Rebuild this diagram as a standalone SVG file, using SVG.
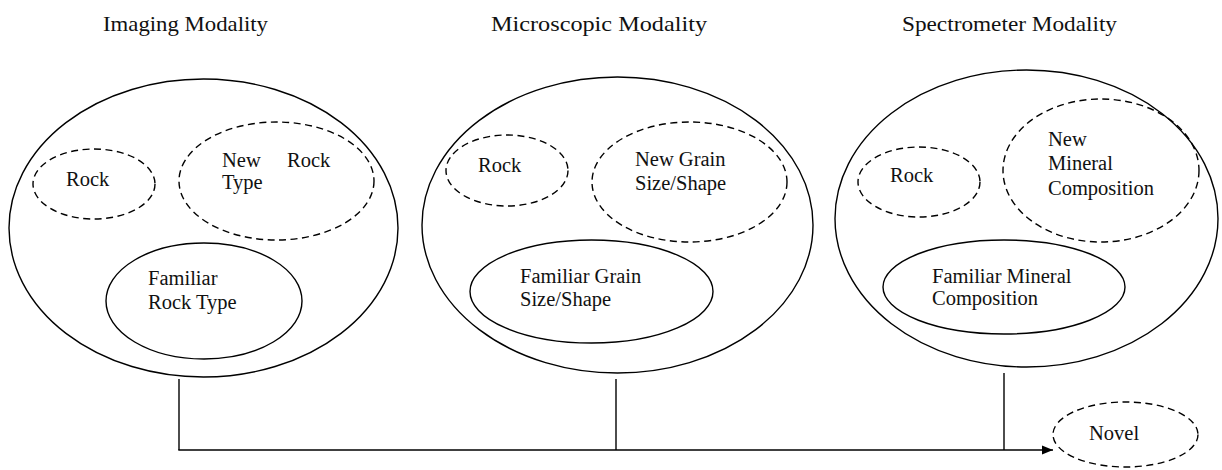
<svg xmlns="http://www.w3.org/2000/svg" width="1222" height="470" viewBox="0 0 1222 470">
  <style>
    .solid { fill: none; stroke: #000; stroke-width: 1.4; }
    .dash { fill: none; stroke: #000; stroke-width: 1.4; stroke-dasharray: 7 4.5; }
    .lbl { font-family: "Liberation Serif", "Times New Roman", serif; font-size: 20.5px; fill: #111; }
    .ttl { font-family: "Liberation Serif", "Times New Roman", serif; font-size: 21px; fill: #111; }
    .wire { fill: none; stroke: #000; stroke-width: 1.4; }
  </style>
  <defs>
    <marker id="arrow" viewBox="0 0 11 10" refX="11" refY="5" markerWidth="11" markerHeight="10" markerUnits="userSpaceOnUse" orient="auto">
      <path d="M0,0.5 L11,5 L0,9.5 Z" fill="#000"/>
    </marker>
  </defs>
  <rect width="1222" height="470" fill="#fff"/>

  <!-- Modality titles -->
  <g id="titles">
    <text class="ttl" x="103" y="31" textLength="165" lengthAdjust="spacingAndGlyphs">Imaging Modality</text>
    <text class="ttl" x="491" y="31" textLength="216" lengthAdjust="spacingAndGlyphs">Microscopic Modality</text>
    <text class="ttl" x="902" y="31" textLength="215" lengthAdjust="spacingAndGlyphs">Spectrometer Modality</text>
  </g>

  <!-- Imaging modality -->
  <g id="imaging">
    <ellipse class="solid" cx="203.5" cy="228" rx="194.5" ry="149"/>
    <g id="imaging-rock">
      <ellipse class="dash" cx="94" cy="184" rx="61" ry="35"/>
      <text class="lbl" x="66" y="186">Rock</text>
    </g>
    <g id="imaging-new">
      <ellipse class="dash" cx="276.5" cy="181" rx="97.5" ry="59"/>
      <text class="lbl" x="222" y="167">New</text>
      <text class="lbl" x="287" y="167">Rock</text>
      <text class="lbl" x="222" y="189">Type</text>
    </g>
    <g id="imaging-familiar">
      <ellipse class="solid" cx="204" cy="301" rx="98" ry="58"/>
      <text class="lbl" x="148" y="285">Familiar</text>
      <text class="lbl" x="148" y="309">Rock Type</text>
    </g>
  </g>

  <!-- Microscopic modality -->
  <g id="microscopic">
    <ellipse class="solid" cx="617.5" cy="225" rx="195.5" ry="148"/>
    <g id="micro-rock">
      <ellipse class="dash" cx="507" cy="170.5" rx="61" ry="35.5"/>
      <text class="lbl" x="478" y="172">Rock</text>
    </g>
    <g id="micro-new">
      <ellipse class="dash" cx="689.5" cy="182" rx="97.5" ry="60"/>
      <text class="lbl" x="635" y="166">New Grain</text>
      <text class="lbl" x="635" y="190">Size/Shape</text>
    </g>
    <g id="micro-familiar">
      <ellipse class="solid" cx="591.5" cy="291.5" rx="121.5" ry="51.5"/>
      <text class="lbl" x="520" y="283">Familiar Grain</text>
      <text class="lbl" x="520" y="306">Size/Shape</text>
    </g>
  </g>

  <!-- Spectrometer modality -->
  <g id="spectrometer">
    <ellipse class="solid" cx="1026.5" cy="218.5" rx="191.5" ry="148.5"/>
    <g id="spec-rock">
      <ellipse class="dash" cx="919" cy="182" rx="61" ry="35"/>
      <text class="lbl" x="890" y="182">Rock</text>
    </g>
    <g id="spec-new">
      <ellipse class="dash" cx="1101" cy="170.5" rx="98" ry="71.5"/>
      <text class="lbl" x="1048" y="146">New</text>
      <text class="lbl" x="1048" y="170">Mineral</text>
      <text class="lbl" x="1048" y="195">Composition</text>
    </g>
    <g id="spec-familiar">
      <ellipse class="solid" cx="1004" cy="287" rx="121" ry="47"/>
      <text class="lbl" x="932" y="283">Familiar Mineral</text>
      <text class="lbl" x="932" y="305">Composition</text>
    </g>
  </g>

  <!-- Novel outcome -->
  <g id="novel">
    <ellipse class="dash" cx="1125.5" cy="434.5" rx="72.5" ry="32.5"/>
    <text class="lbl" x="1089" y="440">Novel</text>
  </g>

  <!-- Connectors -->
  <g id="connectors">
    <line class="wire" x1="179" y1="379" x2="179" y2="450"/>
    <line class="wire" x1="616" y1="379" x2="616" y2="450"/>
    <line class="wire" x1="1004" y1="373" x2="1004" y2="450"/>
    <line class="wire" x1="178.3" y1="450" x2="1053" y2="450" marker-end="url(#arrow)"/>
  </g>
</svg>
